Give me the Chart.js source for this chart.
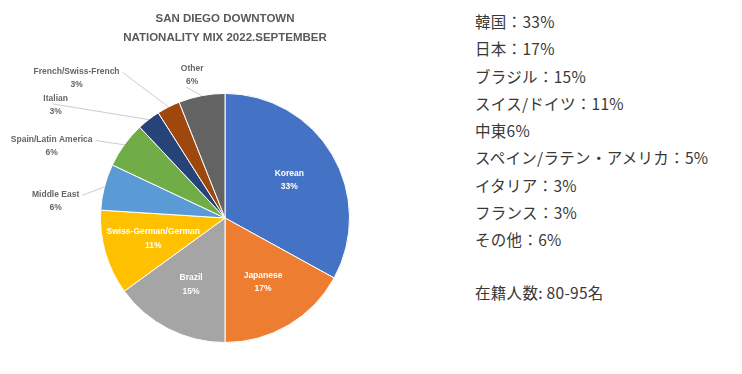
<!DOCTYPE html>
<html>
<head>
<meta charset="utf-8">
<script src="https://cdn.jsdelivr.net/npm/chart.js@4.4.0/dist/chart.umd.min.js"></script>
<style>
    body { margin: 0; background: #fff; width: 742px; height: 374px; overflow: hidden; position: relative; }
    #chartBox { position: absolute; left: 0; top: 0; width: 450px; height: 374px; }
    #notes { position: absolute; left: 475px; top: 8px; font-family: "Noto Sans CJK JP", sans-serif; font-size: 15.5px; letter-spacing: 0.3px; line-height: 27.3px; color: #383838; }
    #notes p { margin: 0; white-space: nowrap; }
    #notes .total { margin-top: 25px; }
</style>
</head>
<body>
<div id="chartBox"><canvas id="pieChart" width="450" height="374"></canvas></div>
<div id="notes"></div>
<script>
const titleLines = ['SAN DIEGO DOWNTOWN', 'NATIONALITY MIX 2022.SEPTEMBER'];
const categories = ['Korean', 'Japanese', 'Brazil', 'Swiss-German/German', 'Middle East', 'Spain/Latin America', 'Italian', 'French/Swiss-French', 'Other'];
const shares = [33, 17, 15, 11, 6, 6, 3, 3, 6];
const sliceColors = ['#4472C4', '#ED7D31', '#A5A5A5', '#FFC000', '#5B9BD5', '#70AD47', '#264478', '#9E480E', '#636363'];

// right-hand notes (the Japanese list rounds Spain to 5%)
const noteNames = ['韓国', '日本', 'ブラジル', 'スイス/ドイツ', '中東', 'スペイン/ラテン・アメリカ', 'イタリア', 'フランス', 'その他'];
const noteShares = [33, 17, 15, 11, 6, 5, 3, 3, 6];
const noteSeparators = ['：', '：', '：', '：', '', '：', '：', '：', '：'];
const headcount = '80-95';

// where the small slices put their labels, in units of the pie radius from its centre
const callouts = {
    'Middle East': { dx: -1.36, dy: -0.136, anchor: 'right' },
    'Spain/Latin America': { dx: -1.392, dy: -0.576, anchor: 'right' },
    'Italian': { dx: -1.36, dy: -0.908, anchor: 'mid' },
    'French/Swiss-French': { dx: -1.192, dy: -1.124, anchor: 'right' },
    'Other': { dx: -0.264, dy: -1.148, anchor: 'bottom' },
};

const notes = document.getElementById('notes');
noteNames.forEach((name, i) => {
    const p = document.createElement('p');
    p.textContent = name + noteSeparators[i] + noteShares[i] + '%';
    notes.appendChild(p);
});
const total = document.createElement('p');
total.className = 'total';
total.textContent = '在籍人数: ' + headcount + '名';
notes.appendChild(total);

const labelFont = 'bold 8.5px "Liberation Sans", Arial, sans-serif';
const lineGap = 13.5;

const sliceLabels = {
    id: 'sliceLabels',
    afterDatasetsDraw(chart) {
        const ctx = chart.ctx;
        const arcs = chart.getDatasetMeta(0).data;
        arcs.forEach((arc, i) => {
            const { x, y, startAngle, endAngle, outerRadius } = arc.getProps(['x', 'y', 'startAngle', 'endAngle', 'outerRadius'], true);
            const mid = (startAngle + endAngle) / 2;
            const lines = [categories[i], shares[i] + '%'];
            const callout = callouts[categories[i]];
            ctx.save();
            ctx.font = labelFont;
            ctx.textAlign = 'center';
            ctx.textBaseline = 'middle';
            let lx, ly;
            if (!callout) {
                lx = x + Math.cos(mid) * outerRadius * 0.6;
                ly = y + Math.sin(mid) * outerRadius * 0.6;
                ctx.fillStyle = '#ffffff';
            } else {
                lx = x + callout.dx * outerRadius;
                ly = y + callout.dy * outerRadius;
                const ex = x + Math.cos(mid) * outerRadius;
                const ey = y + Math.sin(mid) * outerRadius;
                let sx, sy;
                if (callout.anchor === 'right') {
                    sx = lx + ctx.measureText(lines[0]).width / 2 + 3;
                    sy = ly - lineGap / 2 + 1;
                } else if (callout.anchor === 'bottom') {
                    sx = lx - 6;
                    sy = ly + 12;
                } else {
                    sx = lx - 3;
                    sy = ly - 1;
                }
                ctx.strokeStyle = '#bfbfbf';
                ctx.lineWidth = 0.8;
                ctx.beginPath();
                ctx.moveTo(sx, sy);
                ctx.lineTo(ex, ey);
                ctx.stroke();
                ctx.fillStyle = '#666666';
            }
            lines.forEach((t, k) => {
                ctx.fillText(t, lx, ly + (k - 0.5) * lineGap);
            });
            ctx.restore();
        });
    }
};

new Chart(document.getElementById('pieChart').getContext('2d'), {
    type: 'pie',
    data: {
        labels: categories,
        datasets: [{
            data: shares,
            backgroundColor: sliceColors,
            borderColor: '#ffffff',
            borderWidth: 1,
        }],
    },
    options: {
        responsive: false,
        animation: false,
        layout: { padding: { top: 0, bottom: 31, left: 0, right: 0 } },
        plugins: {
            legend: { display: false },
            tooltip: { enabled: false },
            title: {
                display: true,
                text: titleLines,
                color: '#595959',
                font: { family: '"Liberation Sans", Arial, sans-serif', size: 11.5, weight: 'bold', lineHeight: 1.65 },
                padding: { top: 9.5, bottom: 45.5 },
            },
        },
    },
    plugins: [sliceLabels],
});
</script>
</body>
</html>
